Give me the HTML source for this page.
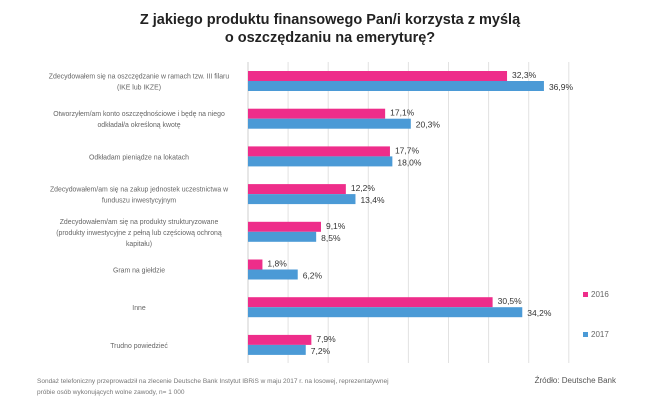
<!DOCTYPE html>
<html><head><meta charset="utf-8"><style>
html,body{margin:0;padding:0;background:#fff;}
svg{display:block;font-family:"Liberation Sans",sans-serif;}
</style></head><body>
<svg id="chart" width="649" height="417" viewBox="0 0 649 417">
<text x="330" y="24" text-anchor="middle" font-size="14.5" font-weight="bold" fill="#222">Z jakiego produktu finansowego Pan/i korzysta z myślą</text>
<text x="330" y="42" text-anchor="middle" font-size="14.5" font-weight="bold" fill="#222">o oszczędzaniu na emeryturę?</text>
<g id="grid"></g>
<g id="labels"></g>
<g id="bars"></g>
<rect x="583" y="292" width="5" height="5" fill="#ee2d8a"/>
<text x="591" y="297" font-size="8" fill="#666">2016</text>
<rect x="583" y="332" width="5" height="5" fill="#4b9ad6"/>
<text x="591" y="337" font-size="8" fill="#666">2017</text>
<text x="37" y="383" font-size="6.5" fill="#777">Sondaż telefoniczny przeprowadził na zlecenie Deutsche Bank Instytut IBRiS w maju 2017 r. na losowej, reprezentatywnej</text>
<text x="37" y="394" font-size="6.5" fill="#777">próbie osób wykonujących wolne zawody, n= 1 000</text>
<text x="616" y="383" text-anchor="end" font-size="8" fill="#555">Źródło: Deutsche Bank</text>
</svg>
<script>
const categories = [
 ["Zdecydowałem się na oszczędzanie w ramach tzw. III filaru","(IKE lub IKZE)"],
 ["Otworzyłem/am konto oszczędnościowe i będę na niego","odkładał/a określoną kwotę"],
 ["Odkładam pieniądze na lokatach"],
 ["Zdecydowałem/am się na zakup jednostek uczestnictwa w","funduszu inwestycyjnym"],
 ["Zdecydowałem/am się na produkty strukturyzowane","(produkty inwestycyjne z pełną lub częściową ochroną","kapitału)"],
 ["Gram na giełdzie"],
 ["Inne"],
 ["Trudno powiedzieć"]
];
const values2016 = [32.3, 17.1, 17.7, 12.2, 9.1, 1.8, 30.5, 7.9];
const values2017 = [36.9, 20.3, 18.0, 13.4, 8.5, 6.2, 34.2, 7.2];
const gridTicks = [0,5,10,15,20,25,30,35,40];

const NS="http://www.w3.org/2000/svg";
const x0=248, pxPer=8.02, yTop=62, yBot=363, firstCenter=81, step=37.7, barH=10;
const xs=v=>x0+v*pxPer;
const yc=i=>firstCenter+i*step;
function mk(tag,attrs,parent){const e=document.createElementNS(NS,tag);for(const k in attrs)e.setAttribute(k,attrs[k]);parent.appendChild(e);return e;}
const grid=document.getElementById('grid'),labels=document.getElementById('labels'),bars=document.getElementById('bars');
gridTicks.forEach(t=>{
 const l=mk('line',{x1:xs(t),x2:xs(t),y1:yTop,y2:yBot,stroke:t===0?'#cfcfcf':'#e2e2e2','stroke-width':1},grid);
 
 
});
categories.forEach((lines,i)=>{
 const c=yc(i);
 const n=lines.length;
 lines.forEach((s,j)=>{
  const t=mk('text',{x:139,y:c+3+(j-(n-1)/2)*11,'text-anchor':'middle','font-size':6.9,fill:'#666'},labels);
  t.textContent=s;
  
  
 });
 const r1=mk('rect',{x:x0,y:c-barH,width:xs(values2016[i])-x0,height:barH,fill:'#ee2d8a'},bars);
 
 
 const r2=mk('rect',{x:x0,y:c,width:xs(values2017[i])-x0,height:barH,fill:'#4b9ad6'},bars);
 
 
 const t1=mk('text',{x:xs(values2016[i])+5,y:c-3,'font-size':8.5,fill:'#333'},bars);
 t1.textContent=values2016[i].toFixed(1).replace('.',',')+'%';
 
 
 const t2=mk('text',{x:xs(values2017[i])+5,y:c+9,'font-size':8.5,fill:'#333'},bars);
 t2.textContent=values2017[i].toFixed(1).replace('.',',')+'%';
 
 
});
</script>
</body></html>
